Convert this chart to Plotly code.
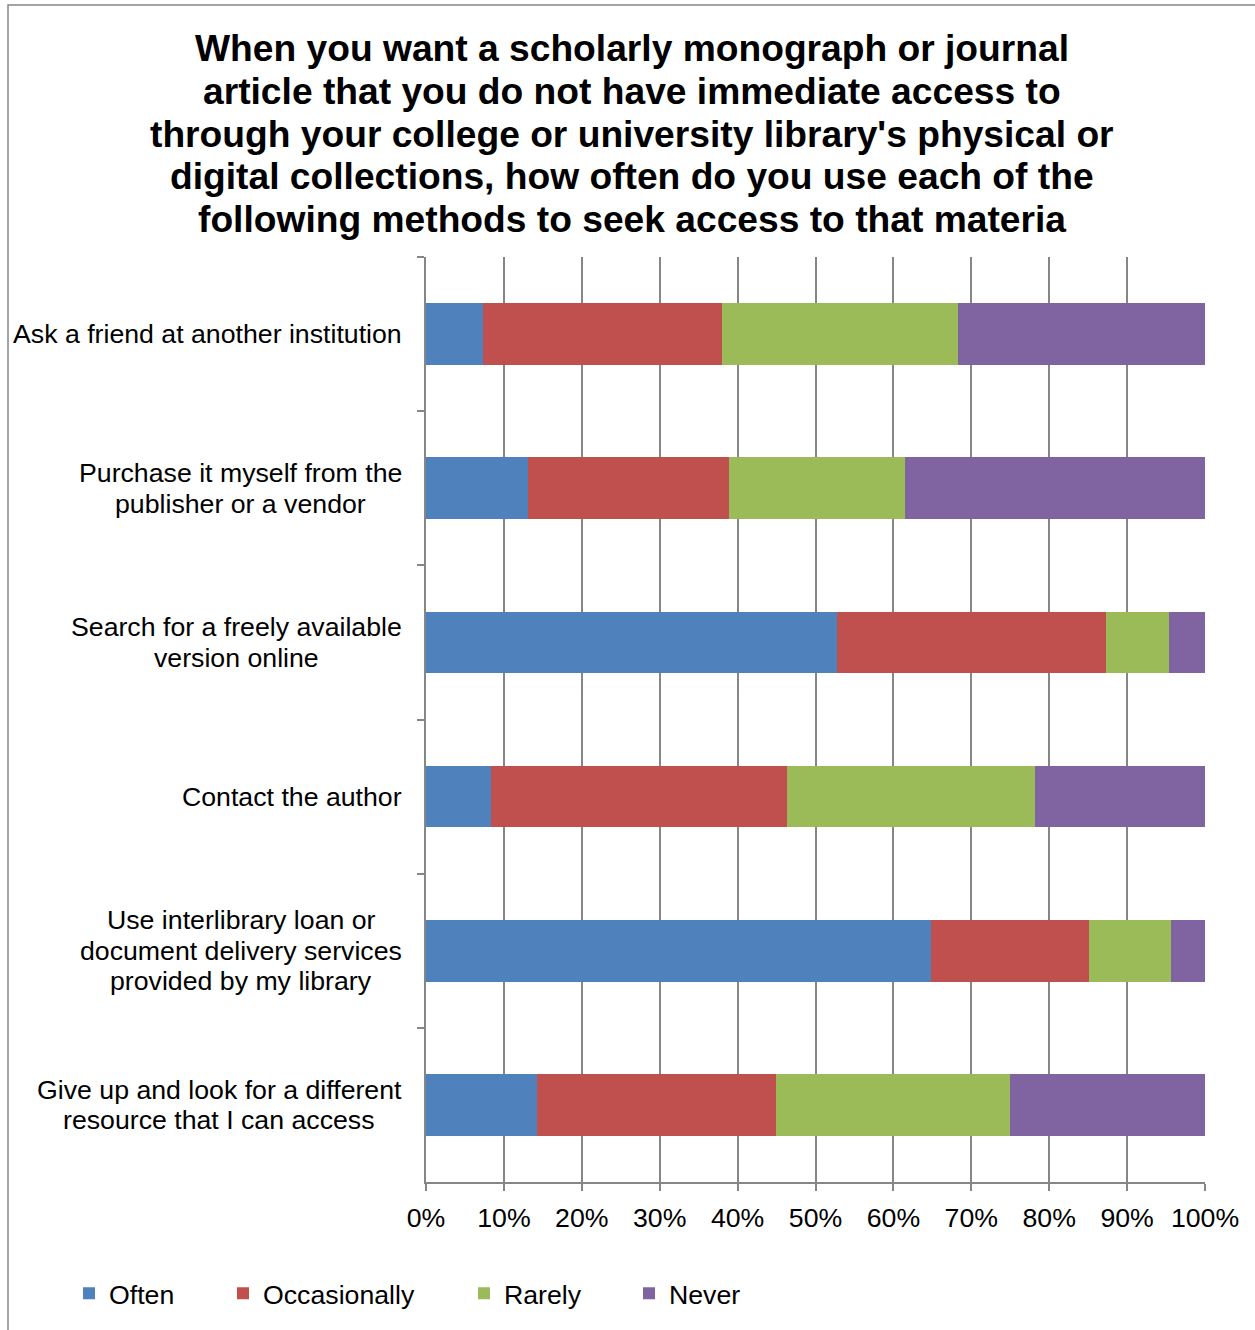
import plotly.graph_objects as go

categories = [
    "Ask a friend at another institution",
    "Purchase it myself from the<br>publisher or a vendor",
    "Search for a freely available<br>version online",
    "Contact the author",
    "Use interlibrary loan or<br>document delivery services<br>provided by my library",
    "Give up and look for a different<br>resource that I can access",
]
cat_keys = ["c1", "c2", "c3", "c4", "c5", "c6"]

often = [7.3, 13.1, 52.8, 8.3, 64.8, 14.2]
occasionally = [30.7, 25.8, 34.5, 38.0, 20.3, 30.7]
rarely = [30.3, 22.6, 8.1, 31.9, 10.5, 30.1]
never = [31.7, 38.5, 4.6, 21.8, 4.4, 25.0]

series = [
    ("Often", often, "#4F81BD"),
    ("Occasionally", occasionally, "#C0504D"),
    ("Rarely", rarely, "#9BBB59"),
    ("Never", never, "#8064A2"),
]

tick_vals = [0, 10, 20, 30, 40, 50, 60, 70, 80, 90, 100]
tick_text = ["0%", "10%", "20%", "30%", "40%", "50%", "60%", "70%", "80%", "90%", "100%"]

title_lines = [
    "When you want a scholarly monograph or journal",
    "article that you do not have immediate access to",
    "through your college or university library's physical or",
    "digital collections, how often do you use each of the",
    "following methods to seek access to that materia",
]

W, H = 1255, 1330
L, R, T, B = 426, 50, 257, 144
pw, ph = W - L - R, H - T - B
FS = 26.7
font = "Liberation Sans, Arial, sans-serif"

def px_x(x):
    return (x - L) / pw

def px_y(y):
    return (H - B - y) / ph

# Arial / Liberation Sans advance widths (per 1000 em) for label layout
_w = {" ": 278, "a": 556, "b": 556, "c": 500, "d": 556, "e": 556, "f": 278, "g": 556,
      "h": 556, "i": 222, "j": 222, "k": 500, "l": 222, "m": 833, "n": 556, "o": 556,
      "p": 556, "q": 556, "r": 333, "s": 500, "t": 278, "u": 556, "v": 500, "w": 722,
      "x": 500, "y": 500, "z": 500, "A": 667, "C": 722, "G": 778, "I": 278, "P": 667,
      "S": 667, "U": 722}

def text_w(s, size):
    return sum(_w.get(ch, 556) for ch in s) / 1000 * size

fig = go.Figure()
legend_text_px = [110, 264, 505, 670]
legend_names = ["legend", "legend2", "legend3", "legend4"]
for (name, vals, color), lg in zip(series, legend_names):
    fig.add_trace(go.Bar(
        y=cat_keys, x=vals, name=name, orientation="h",
        marker=dict(color=color, line=dict(width=0)),
        legend=lg, showlegend=True,
    ))

layout_legends = {}
for lg, xt in zip(legend_names, legend_text_px):
    layout_legends[lg] = dict(
        x=px_x(xt - 41), xanchor="left", y=px_y(1298), yanchor="middle",
        orientation="h", font=dict(size=FS, color="#000000", family=font),
        bgcolor="rgba(0,0,0,0)", itemwidth=30, visible=True,
    )

annotations = []
label_step = 30.5
label_right = 402
for key, lab in zip(cat_keys, categories):
    lines = lab.split("<br>")
    n = len(lines)
    maxw = max(text_w(s, FS) for s in lines)
    cx = label_right - maxw / 2
    for i, line in enumerate(lines):
        off = (i - (n - 1) / 2) * label_step
        annotations.append(dict(
            x=px_x(cx), xref="paper", y=key, yref="y", text=line, showarrow=False,
            xanchor="center", yanchor="middle", align="center",
            yshift=-off,
            font=dict(size=FS, color="#000000", family=font),
        ))

title_y = [47, 90, 133, 176, 219]
for line, yc in zip(title_lines, title_y):
    annotations.append(dict(
        x=px_x(632), xref="paper", y=px_y(yc), yref="paper", text="<b>" + line + "</b>",
        showarrow=False, xanchor="center", yanchor="middle",
        font=dict(size=37.2, color="#000000", family=font),
    ))

fig.update_layout(
    width=W, height=H,
    margin=dict(l=L, r=R, t=T, b=B),
    barmode="stack", bargap=0.6,
    paper_bgcolor="white", plot_bgcolor="white",
    showlegend=True,
    annotations=annotations,
    shapes=[dict(type="rect", xref="paper", yref="paper",
                 x0=px_x(8), x1=px_x(1262), y0=px_y(1340), y1=px_y(4),
                 line=dict(color="#878787", width=1.5), fillcolor="rgba(0,0,0,0)", layer="below")],
    **layout_legends,
)

fig.update_xaxes(
    range=[0, 100], tickvals=tick_vals, ticktext=tick_text,
    showgrid=True, gridcolor="#868686", gridwidth=1.5,
    showline=True, linecolor="#868686", linewidth=1.5,
    ticks="outside", ticklen=7, tickcolor="#868686", tickwidth=1.5,
    ticklabelstandoff=4,
    tickfont=dict(size=FS, color="#000000", family=font),
    zeroline=False, fixedrange=True,
)
fig.update_yaxes(
    type="category", categoryorder="array", categoryarray=cat_keys,
    autorange="reversed", showticklabels=False,
    showline=True, linecolor="#868686", linewidth=1.5,
    ticks="outside", tickson="boundaries", ticklen=7, tickcolor="#868686", tickwidth=1.5,
    showgrid=False, zeroline=False, fixedrange=True,
)

fig.write_html("out.html", config={"displayModeBar": False},
               post_script="document.body.style.margin='0';")
